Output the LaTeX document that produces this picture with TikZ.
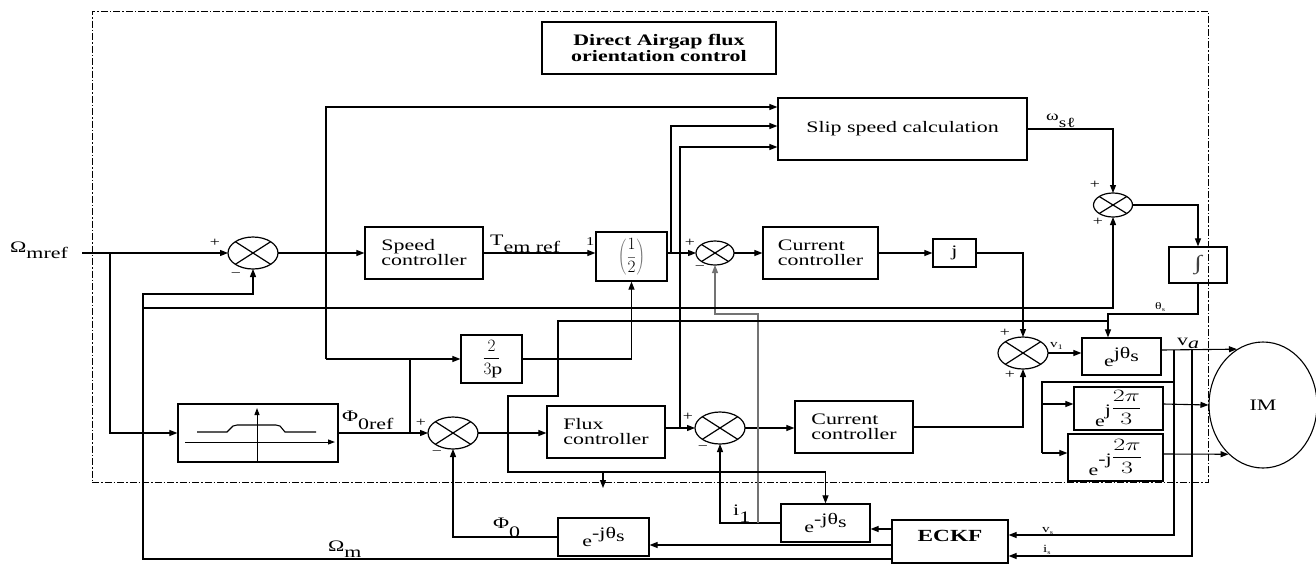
\documentclass[tikz,border=0pt]{standalone}
\usepackage{graphicx}
\usepackage{fontspec}
\setmainfont{Liberation Serif}[FakeStretch=1.37]
\usetikzlibrary{arrows.meta,shapes.geometric}
\newcommand{\dn}[2]{\raisebox{-#1pt}{#2}}
\newcommand{\up}[2]{\raisebox{#1pt}{#2}}
\newcommand{\fs}[2]{\fontsize{#1}{#2}\selectfont}
\begin{document}
\begin{tikzpicture}[x=1pt,y=-1pt,
  font=\fs{16}{15},
  wire/.style={line width=1.1pt},
  arr/.style={line width=1.1pt,-{Triangle[length=8pt,width=6pt]}},
  arrs/.style={line width=1pt,-{Triangle[length=7pt,width=5pt]}},
  blk/.style={draw,rectangle,line width=1.2pt,inner sep=0pt,align=left},
  sumn/.style={draw,ellipse,line width=1.2pt,inner sep=0pt,outer sep=0pt,minimum width=50pt,minimum height=32pt},
  sumsm/.style={sumn,minimum width=38pt,minimum height=24pt},
  sgn/.style={font=\fs{13}{13},inner sep=0pt},
  lbl/.style={inner sep=0pt,anchor=base west},
  frame/.style={draw,line width=0.9pt,dash pattern=on 7pt off 2pt on 1.5pt off 2pt},
]
\useasboundingbox (0,0) rectangle (1316,563);
\node[frame,minimum width=1116pt,minimum height=471pt,inner sep=0pt] (box) at (650,246.5) {};

% blocks
\node[blk,align=center,minimum width=234pt,minimum height=52pt,font=\fs{16}{16}\bfseries] (title) at (659,48) {Direct Airgap flux\\orientation control};
\node[blk,align=center,minimum width=249pt,minimum height=62pt] (slip) at (902.5,129) {Slip speed calculation};
\node[blk,minimum width=118pt,minimum height=52pt] (speed) at (424,253) {Speed\\controller};
\node[blk,minimum width=71pt,minimum height=49pt,font=\fs{18}{18}] (half) at (631.5,256.5) {\color{black!55}$\displaystyle\left(\frac{\color{black}1}{\color{black}2}\right)$};
\node[blk,minimum width=115pt,minimum height=52pt] (cc1) at (820.5,253) {Current\\controller};
\node[blk,minimum width=43pt,minimum height=28pt] (jb) at (954.5,253) {j};
\node[blk,minimum width=58pt,minimum height=36pt,font=\fs{20}{20}] (integ) at (1198,265) {\color{black!75}∫};
\node[blk,minimum width=61pt,minimum height=48pt] (tp) at (491.5,359) {$\displaystyle\frac{2}{3\mathrm{p}}$};
\node[blk,minimum width=160pt,minimum height=58pt] (fw) at (258,433) {};
\node[blk,minimum width=118pt,minimum height=52pt] (flux) at (606,432) {Flux\\controller};
\node[blk,minimum width=118pt,minimum height=52pt] (cc2) at (854,427) {Current\\controller};
\node[blk,minimum width=79pt,minimum height=37pt] (ejt) at (1121.5,356.5) {e\up{8}{jθ\dn{3}{s}}};
\node[blk,minimum width=89pt,minimum height=43pt] (ep) at (1118.5,408.5) {e\up{11}{j}\up{14}{\scalebox{1.5}[1]{$\displaystyle\frac{2\pi}{3}$}}};
\node[blk,minimum width=95pt,minimum height=47pt] (em) at (1115.5,457.5) {e\up{11}{-j}\up{14}{\scalebox{1.5}[1]{$\displaystyle\frac{2\pi}{3}$}}};
\node[draw,ellipse,line width=1.1pt,minimum width=108pt,minimum height=126pt,inner sep=0pt] (IM) at (1263,405) {IM};
\node[blk,minimum width=89pt,minimum height=38pt] (ei1) at (825.5,523) {e\up{8}{-jθ\dn{3}{s}}};
\node[blk,minimum width=91pt,minimum height=38pt] (ei2) at (603.5,537) {e\up{8}{-jθ\dn{3}{s}}};
\node[blk,minimum width=116pt,minimum height=43pt,font=\fs{17}{17}\bfseries,text depth=12pt] (eckf) at (950,541.5) {ECKF};

% summing junctions
\node[sumn] (s1) at (253,253) {};
\node[sumsm] (s2) at (715,253) {};
\node[sumsm,minimum width=39pt] (s3) at (1113,205) {};
\node[sumn] (s4) at (720,428) {};
\node[sumn] (sphi) at (453,433) {};
\node[sumn] (s5) at (1023,353) {};
\foreach \s in {s1,s2,s3,s4,sphi,s5}
  \draw[line width=1.2pt] (\s.north west) -- (\s.south east) (\s.north east) -- (\s.south west);

% flux weakening characteristic
\draw[arrs] (185,442) -- (335,442);
\draw[arrs] (257,462) -- (257,408);
\draw[wire] (197,432) -- (227,432) -- (233,426) -- (237,425) -- (276,425) -- (280,426) -- (285,432) -- (316,432);

% coordinates
\coordinate (in) at (82,253);
\coordinate (jA) at (110,253);
\coordinate (ia) at (758,523);
\coordinate (om) at (143,294);
\coordinate (omb) at (143,308);
\coordinate (thA) at (1108,314);
\coordinate (thB) at (1108,321);
\coordinate (stubA) at (603,472);
\coordinate (stubB) at (603,488);
\coordinate (pA) at (410,433);
\coordinate (pB) at (326,359);
\coordinate (hA) at (671,253);
\coordinate (fA) at (680,428);
\coordinate (vA) at (1174,350);
\coordinate (vB) at (1192,350);
\coordinate (vC) at (1174,382);
\coordinate (vD) at (1042,404);
\coordinate (vE) at (1042,453);

% connectors
\draw[arr] (in) -- (s1.west);
\draw[arr] (jA) |- (fw.west);
\draw[arr] (fw.east) -- (sphi.west);
\draw[arr] (s1.east) -- (speed.west);
\draw[arr] (speed.east) -- (half.west |- speed.east);
\draw[arr] (half.east |- s2.west) -- (s2.west);
\draw[arr] (s2.east) -- (cc1.west);
\draw[arr] (cc1.east) -- (jb.west);
\draw[arr] (jb.east) -| (s5.north);
\draw[arr] (s5.east) -- (ejt.west |- s5.east);
\draw[arr] (cc2.east) -| (s5.south);
\draw[arr] (s4.east) -- (cc2.west |- s4.east);
\draw[arr] (flux.east |- s4.west) -- (s4.west);
\draw[arr] (sphi.east) -- (flux.west |- sphi.east);
\draw[arr] (ei2.west) -| (sphi.south);
\draw[arr] (eckf.west |- 0,545) -- (ei2.east |- 0,545);
\draw[arr] (eckf.west |- 0,529) -- (ei1.east |- 0,529);
\draw[arr] (ei1.west) -| (s4.south);
\draw[arr,black!55] (ia) |- (s2.south |- 0,314) -- (s2.south);
\draw[arr] (eckf.west |- 0,559) -| (om) -| (s1.south);
\draw[arr] (omb) -| (s3.south);
\draw[arr] (slip.east) -| (s3.north);
\draw[arr] (s3.east) -| (integ.north);
\draw[arr] (integ.south) |- (thA) -- (thA |- ejt.north);
\draw[arr] (thB) -- (558,321) |- (508,396) |- (ei1.north |- 0,472) -- (ei1.north);
\draw[arr] (stubA) -- (stubB);
\draw[wire] (pA) |- (pB);
\draw[arr] (pB) |- (slip.west |- 0,107);
\draw[arr] (pB) -- (tp.west |- pB);
\draw[arr] (tp.east) -| (half.south);
\draw[arr] (hA) |- (slip.west |- 0,126);
\draw[arr] (fA) |- (slip.west |- 0,147);
\draw[arr] (ejt.east |- 0,350) -- (IM.115);
\draw[arr] (vA) |- (eckf.east |- 0,535);
\draw[arr] (vB) |- (eckf.east |- 0,556);
\draw[wire] (vC) -| (vE);
\draw[arr] (vD) -- (ep.west |- vD);
\draw[arr] (vE) -- (em.west |- vE);
\draw[arr] (ep.east |- 0,404) -- (IM.west);
\draw[arr] (em.east |- 0,454) -- (IM.235);

% labels
\node[lbl] (lomr) at (10,252) {Ω\dn{6}{mref}};
\node[lbl] (ltem) at (490,245) {T\dn{7}{em ref}};
\node[lbl,font=\fs{12}{12}] (lone) at (586,245) {1};
\node[lbl] (lphr) at (342,421) {Φ\dn{8}{0ref}};
\node[lbl] (lph0) at (493,528) {Φ\dn{9}{0}};
\node[lbl] (li1) at (733,515) {i\dn{7}{1}};
\node[lbl] (lomm) at (328,551) {Ω\dn{6}{m}};
\node[lbl,font=\fs{14}{14}] (lwsl) at (1046,120) {ω\dn{7}{sℓ}};
\node[lbl,font=\fs{10}{10}] (lths) at (1155,309) {θ\dn{2}{\fs{6}{6}s}};
\node[lbl] (lva) at (1177,345) {v\dn{3}{\textit{a}}};
\node[lbl,font=\fs{11}{11}] (lv1) at (1050,347) {v\dn{2}{\fs{7}{7}1}};
\node[lbl,font=\fs{11}{11}] (lvs) at (1042,532) {v\dn{2}{\fs{6}{6}s}};
\node[lbl,font=\fs{11}{11}] (lis) at (1043,552) {i\dn{2}{\fs{6}{6}s}};

% signs
\node[sgn] at (215,243) {+};
\node[sgn] at (236,275) {−};
\node[sgn] at (690,243) {+};
\node[sgn] at (700,268) {−};
\node[sgn] at (1095,185) {+};
\node[sgn] at (1098,222) {+};
\node[sgn] at (688,417) {+};
\node[sgn] at (703,448) {−};
\node[sgn] at (421,423) {+};
\node[sgn] at (437,453) {−};
\node[sgn] at (1005,333) {+};
\node[sgn] at (1010,375) {+};
\end{tikzpicture}
\end{document}
